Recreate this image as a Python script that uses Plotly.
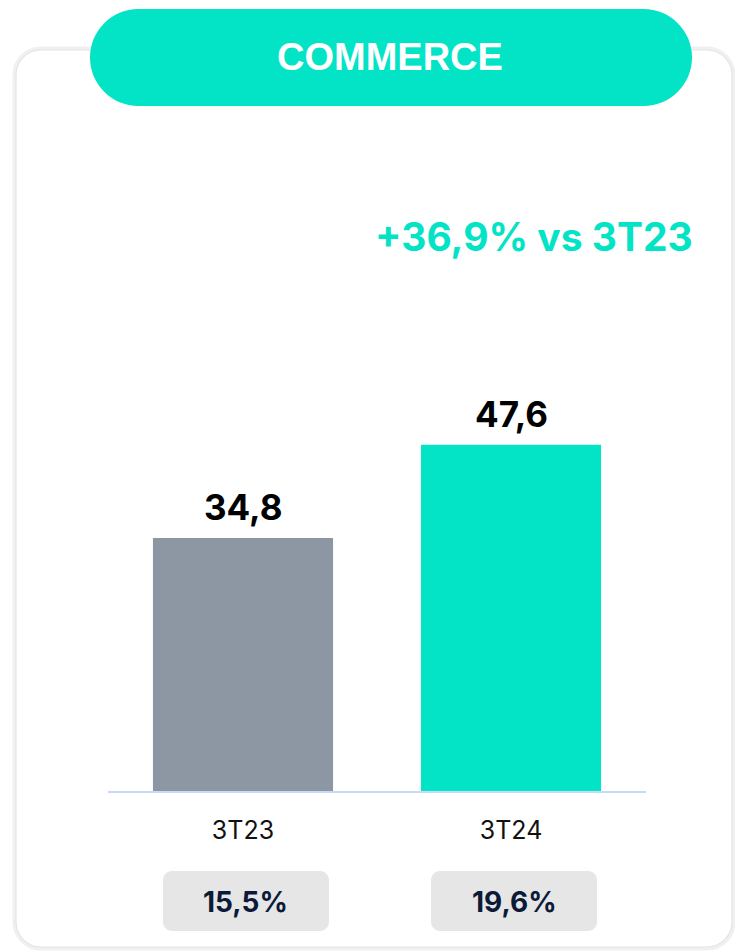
import plotly.graph_objects as go

# ---------------- data ----------------
categories = ["3T23", "3T24"]
values = [34.8, 47.6]
shares = ["15,5%", "19,6%"]
bar_colors = ["#8D96A3", "#03E3C6"]
title_text = "COMMERCE"
growth_text = "+36,9% vs 3T23"

# ---------------- geometry ----------------
W, H = 735, 952
ML, MR, MT, MB = 108, 89, 100, 161
PW, PH = W - ML - MR, H - MT - MB
X_RANGE = [-0.5037, 1.5037]
Y_RANGE = [0, 95]
TEAL = "#03E3C6"


def px(x):
    return (x - ML) / PW


def py(y):
    return (H - MB - y) / PH


def data_x_to_px(xv):
    return ML + (xv - X_RANGE[0]) / (X_RANGE[1] - X_RANGE[0]) * PW


def rrect(x0, y0, x1, y1, r):
    k = 0.5523 * r

    def P(x, y):
        return f"{px(x):.5f},{py(y):.5f}"

    d = f"M {P(x0 + r, y0)} L {P(x1 - r, y0)} "
    d += f"C {P(x1 - r + k, y0)} {P(x1, y0 + r - k)} {P(x1, y0 + r)} "
    d += f"L {P(x1, y1 - r)} "
    d += f"C {P(x1, y1 - r + k)} {P(x1 - r + k, y1)} {P(x1 - r, y1)} "
    d += f"L {P(x0 + r, y1)} "
    d += f"C {P(x0 + r - k, y1)} {P(x0, y1 - r + k)} {P(x0, y1 - r)} "
    d += f"L {P(x0, y0 + r)} "
    d += f"C {P(x0, y0 + r - k)} {P(x0 + r - k, y0)} {P(x0 + r, y0)} Z"
    return d


fig = go.Figure()
fig.add_trace(go.Bar(
    x=list(range(len(categories))), y=values,
    marker=dict(color=bar_colors, line=dict(width=0)),
    width=0.672, hoverinfo="skip",
))

shapes = []
# card with soft shadow
shapes.append(dict(type="path", xref="paper", yref="paper", layer="below",
                   path=rrect(15, 49, 733, 948, 26), fillcolor="white",
                   line=dict(color="#F0F0F0", width=5)))
shapes.append(dict(type="path", xref="paper", yref="paper", layer="below",
                   path=rrect(16, 50, 732, 947, 25), fillcolor="white",
                   line=dict(color="#E4E4E4", width=1.2)))
# header pill
shapes.append(dict(type="path", xref="paper", yref="paper", layer="below",
                   path=rrect(90, 9, 692, 106, 48.5), fillcolor=TEAL,
                   line=dict(width=0)))
# share boxes
for i, s in enumerate(shares):
    cx = data_x_to_px(i) + 3
    shapes.append(dict(type="path", xref="paper", yref="paper", layer="below",
                       path=rrect(cx - 83, 871, cx + 83, 931, 9),
                       fillcolor="#E6E6E6", line=dict(width=0)))

annotations = []
annotations.append(dict(xref="paper", yref="paper", x=px(390), y=py(57),
                        text=f"<b>{title_text}</b>", showarrow=False,
                        xanchor="center", yanchor="middle",
                        font=dict(family="Liberation Sans", size=38, color="white")))
annotations.append(dict(xref="paper", yref="paper", x=px(695), y=py(236),
                        text=f"<b>{growth_text}</b>", showarrow=False,
                        xanchor="right", yanchor="middle",
                        font=dict(family="Inter", size=39, color=TEAL)))
for i, v in enumerate(values):
    annotations.append(dict(xref="x", yref="y", x=i, y=v,
                            text="<b>" + f"{v:.1f}".replace(".", ",") + "</b>",
                            showarrow=False, xanchor="center", yanchor="bottom",
                            yshift=8,
                            font=dict(family="Inter", size=35, color="#000000")))
for i, s in enumerate(shares):
    annotations.append(dict(xref="paper", yref="paper",
                            x=px(data_x_to_px(i) + 3), y=py(902),
                            text=f"<b>{s}</b>", showarrow=False,
                            xanchor="center", yanchor="middle",
                            font=dict(family="Inter", size=28, color="#0B1A38")))

fig.update_layout(
    width=W, height=H,
    margin=dict(l=ML, r=MR, t=MT, b=MB, pad=0),
    paper_bgcolor="white", plot_bgcolor="rgba(0,0,0,0)",
    showlegend=False, separators=",.",
    shapes=shapes, annotations=annotations,
    xaxis=dict(range=X_RANGE, tickvals=list(range(len(categories))),
               ticktext=categories, showgrid=False, zeroline=False,
               showline=True, linecolor="#C7DAF7", linewidth=2,
               ticks="", ticklabelstandoff=16,
               tickfont=dict(family="Inter", size=25, color="#111111"),
               fixedrange=True),
    yaxis=dict(range=Y_RANGE, visible=False, showgrid=False,
               zeroline=False, fixedrange=True),
)

fig.write_html("out.html", config={"displayModeBar": False},
               post_script="document.body.style.margin='0';document.body.style.overflow='hidden';")
